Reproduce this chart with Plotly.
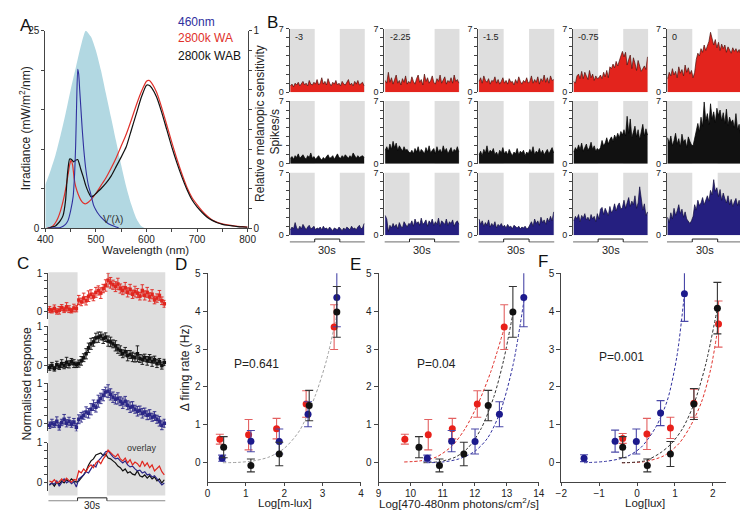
import numpy as np
import plotly.graph_objects as go

W, H = 748, 510
FONT = "Liberation Sans, Arial, sans-serif"
RED = "#e3241d"
BLUE = "#27237f"
BLACK = "#111111"
GRAY_BG = "#dedede"

# ---------------- Panel A data ----------------
mel_wl = [400, 410, 420, 430, 440, 450, 460, 470, 480, 490, 500, 510, 520, 530, 540, 550, 560, 570, 580, 590, 597]
mel_val = [0.22, 0.29, 0.37, 0.47, 0.58, 0.70, 0.81, 0.92, 1.0, 0.97, 0.90, 0.80, 0.68, 0.56, 0.44, 0.32, 0.21, 0.12, 0.05, 0.01, 0.0]

nm460_wl = [405, 420, 430, 440, 445, 450, 455, 458, 460, 462, 464, 466, 468, 470, 473, 476, 480, 485, 490, 495, 500, 505, 510, 520, 530, 540, 545]
nm460_val = [0.0, 0.05, 0.1, 0.5, 1.0, 2.2, 4.0, 7.0, 10.5, 16.0, 20.1, 19.5, 17.5, 15.5, 12.5, 10.0, 7.5, 5.5, 4.3, 3.0, 2.3, 1.8, 1.4, 0.8, 0.4, 0.15, 0.05]

wa_wl = [403, 410, 415, 420, 425, 430, 435, 440, 445, 448, 451, 454, 457, 460, 465, 470, 475, 480, 485, 490, 500, 510, 520, 530, 540, 550, 560, 570, 580, 590, 600, 605, 610, 620, 630, 640, 650, 660, 670, 680, 690, 700, 710, 720, 730, 740, 750, 760, 770, 780, 790, 800]
wa_val = [0.0, 0.1, 0.3, 0.7, 1.3, 2.2, 3.4, 4.9, 6.8, 8.0, 8.6, 8.0, 6.3, 5.3, 4.3, 3.6, 3.2, 3.1, 3.3, 3.6, 4.4, 5.4, 6.4, 7.6, 8.9, 10.4, 11.9, 13.7, 15.6, 17.3, 18.6, 18.7, 18.4, 17.2, 15.3, 13.1, 10.9, 8.8, 6.9, 5.2, 3.9, 3.0, 2.2, 1.55, 1.05, 0.75, 0.55, 0.42, 0.33, 0.25, 0.2, 0.15]

wab_wl = [405, 410, 420, 425, 430, 435, 440, 444, 448, 452, 456, 460, 464, 467, 470, 475, 480, 485, 490, 495, 500, 510, 520, 530, 540, 550, 560, 570, 580, 590, 600, 605, 610, 620, 630, 640, 650, 660, 670, 680, 690, 700, 710, 720, 730, 740, 750, 760, 770, 780, 790, 800]
wab_val = [0.0, 0.1, 0.3, 0.6, 1.0, 1.6, 3.5, 7.0, 8.75, 8.7, 8.4, 8.6, 8.7, 8.2, 7.5, 6.5, 5.4, 4.6, 4.0, 4.1, 4.4, 5.0, 5.7, 6.6, 7.8, 9.0, 10.3, 12.4, 14.5, 16.6, 18.1, 18.1, 17.8, 16.6, 14.7, 12.5, 10.3, 8.3, 6.5, 4.9, 3.6, 2.7, 2.0, 1.4, 1.0, 0.7, 0.5, 0.38, 0.3, 0.22, 0.17, 0.13]

# ---------------- Panel B data (spikes/s, 48 bins over 90 s) ----------------
b_labels = ["-3", "-2.25", "-1.5", "-0.75", "0"]
wa_m300 = [0.7,0.9,0.6,1.0,0.8,1.1,0.7,0.9,1.2,0.8,1.0,0.7,1.3,0.9,0.8,1.1, 0.9,1.4,0.8,1.0,1.6,0.9,1.2,0.8,1.5,1.0,0.7,1.1,0.9,1.3,0.8,1.0, 0.7,1.2,0.9,0.8,1.1,1.4,0.8,1.0,0.7,1.2,0.9,1.3,0.8,1.0,1.1,0.7]
wa_m225 = [1.3,1.0,2.2,1.1,1.6,0.9,1.4,1.9,1.0,1.3,0.8,1.5,1.1,1.8,0.9,1.2, 1.0,1.7,1.2,0.9,1.5,1.9,1.1,1.4,0.8,2.0,1.2,1.6,1.0,1.3,1.8,1.1, 0.9,1.5,1.2,1.9,1.0,1.4,1.7,0.9,1.3,1.1,1.6,1.0,1.9,1.2,1.4,1.0]
wa_m150 = [1.2,1.6,1.0,1.8,1.3,1.1,1.5,0.9,1.3,1.2,1.7,1.0,1.4,0.9,1.2,1.6, 1.0,1.3,0.9,1.5,1.1,1.2,0.8,1.4,1.0,1.7,1.2,0.9,1.3,1.1,1.6,1.0, 1.2,1.8,1.0,1.4,1.1,1.7,0.9,1.5,1.2,1.9,1.1,1.6,1.0,1.8,1.3,1.4]
wa_m075 = [1.2,1.0,1.8,2.0,1.5,2.3,1.5,2.2,1.8,1.4,2.4,1.6,2.0,1.3,1.8,1.5, 1.6,1.9,1.5,2.2,1.7,2.4,1.6,2.8,2.6,3.1,2.7,3.4,2.9,3.6,4.0,4.5, 3.9,4.4,3.0,3.6,4.1,2.6,3.8,3.2,2.4,3.5,2.8,2.3,2.6,2.9,2.5,3.9]
wa_0 = [1.5,2.2,1.8,2.6,1.9,2.3,1.6,2.8,2.1,2.5,1.8,3.0,2.2,2.7,2.0,2.4, 1.6,2.2,3.6,4.3,4.0,4.8,4.4,5.2,4.6,5.0,5.6,6.6,6.0,5.2,5.8,4.9, 5.5,4.6,5.3,4.8,5.2,4.4,5.0,4.6,4.3,4.9,4.5,4.8,4.4,4.7,4.2,4.6]

wab_m300 = [0.6,0.8,0.5,0.9,0.7,1.1,0.6,0.8,1.0,0.7,0.5,0.9,0.7,1.2,0.6,0.8, 0.5,0.7,0.9,0.6,0.4,0.7,0.5,0.8,1.0,0.6,0.7,0.9,0.5,0.8,1.1,0.7, 0.6,0.9,0.7,1.0,0.8,0.6,0.9,0.7,1.2,0.8,0.6,0.9,0.7,0.8,0.9,0.7]
wab_m225 = [1.5,1.9,1.4,2.2,1.6,2.5,1.8,2.3,1.5,2.0,1.7,1.4,1.9,1.5,1.6,1.3, 1.2,1.5,1.1,1.7,1.3,1.9,1.2,1.6,1.4,1.1,1.8,1.3,2.0,1.2,1.5,1.7, 1.1,1.9,1.3,1.6,1.2,2.0,1.4,1.7,1.1,1.5,1.8,1.2,1.6,1.4,1.9,1.3]
wab_m150 = [1.0,1.4,0.9,1.6,1.2,2.0,1.1,1.5,1.3,1.7,1.0,1.3,0.9,1.5,1.2,1.8, 1.1,1.4,1.0,1.6,1.2,0.9,1.3,1.1,1.7,1.0,1.4,1.2,1.5,0.9,1.3,1.1, 1.6,1.2,1.9,1.0,1.4,1.2,1.7,1.1,1.5,1.0,1.3,1.6,1.1,1.4,1.8,1.2]
wab_m075 = [1.3,1.8,1.5,2.1,1.6,2.3,1.4,1.9,2.2,1.5,1.8,2.4,1.6,2.0,1.4,1.7, 1.5,1.8,2.6,2.0,2.3,2.9,2.2,2.7,3.0,2.5,3.2,2.8,3.4,2.9,3.6,3.2, 3.8,3.1,5.3,3.4,5.0,2.9,3.6,4.2,3.0,3.8,2.7,3.4,4.4,3.1,3.9,3.2]
wab_0 = [2.9,2.3,3.1,2.0,2.6,3.4,2.2,2.8,1.9,3.3,2.4,2.7,1.8,3.0,2.5,2.1, 2.0,2.8,3.9,4.5,3.6,5.2,4.2,6.9,4.8,5.6,4.4,6.7,5.0,5.8,4.6,6.2, 5.4,6.0,4.8,5.7,4.5,6.1,4.3,5.2,4.6,4.9,4.0,5.6,3.8,4.4,3.2,2.8]

n460_m300 = [0.6,0.9,0.7,1.4,0.8,0.6,1.0,0.7,1.2,0.8,0.6,0.9,1.1,0.7,0.8,1.0, 0.6,0.8,0.7,0.9,0.6,1.0,0.7,0.8,0.6,0.9,0.7,0.5,0.8,0.7,0.6,0.9, 0.7,0.5,0.8,0.6,0.9,0.7,0.6,1.0,0.7,0.8,0.6,0.9,1.1,0.7,0.8,1.3]
n460_m225 = [2.2,1.8,0.4,1.1,0.8,1.3,0.9,1.2,0.7,1.4,1.0,0.8,1.5,1.1,0.9,1.3, 1.2,1.6,1.0,1.8,1.3,1.5,1.1,1.9,1.2,1.4,1.7,1.0,1.6,1.3,1.8,1.1, 1.5,1.2,1.9,1.0,1.6,1.4,1.2,1.8,1.1,1.5,1.3,1.7,1.0,1.4,1.6,1.2]
n460_m150 = [1.8,1.2,1.6,1.0,1.4,1.1,1.7,0.9,1.3,1.0,1.5,0.8,1.2,1.0,1.3,0.9, 1.1,0.8,1.2,0.9,1.0,0.7,1.1,0.9,0.8,1.0,0.7,0.9,0.8,1.0,0.7,0.8, 1.1,1.5,1.0,1.8,1.3,1.6,1.1,2.0,1.4,1.7,1.2,1.9,1.5,2.1,1.6,2.6]
n460_m075 = [1.6,2.1,1.8,2.3,1.5,2.2,1.9,2.4,1.7,2.0,1.6,2.3,1.8,2.1,1.5,2.4, 1.8,2.9,3.1,2.3,3.0,2.6,2.2,3.2,2.5,2.8,3.5,2.7,3.3,3.6,2.9,3.1, 3.9,3.0,3.7,4.2,3.2,3.8,3.4,4.4,3.0,3.6,5.4,4.3,2.8,3.5,2.2,2.6]
n460_0 = [2.0,1.4,2.5,1.8,3.0,2.2,2.7,3.4,2.4,2.9,2.0,2.6,1.8,1.5,1.3,1.6, 2.1,3.4,2.8,3.9,3.3,3.6,4.2,3.4,4.0,4.4,3.8,5.0,4.5,6.2,4.9,5.3, 4.3,5.1,3.9,4.7,4.1,3.6,4.4,3.4,4.0,3.2,3.7,4.1,3.3,3.9,3.0,3.5]

b_rows = [
    (wa_m300, wa_m225, wa_m150, wa_m075, wa_0),
    (wab_m300, wab_m225, wab_m150, wab_m075, wab_0),
    (n460_m300, n460_m225, n460_m150, n460_m075, n460_0),
]
b_fill = [RED, "#111111", "#251f80"]
b_edge = ["#4a1410", "#000000", "#120e3c"]
b_time = (np.arange(48) + 0.5) * 90 / 48

# ---------------- Panel C data (normalised, 48 bins over 120 s) ----------------
c_time = (np.arange(48) + 0.5) * 2.5
c_wa = [0.05,0.02,0.08,0.0,0.03,0.1,0.04,0.12,0.06,0.02,0.09,0.07, 0.3,0.25,0.35,0.28,0.4,0.45,0.38,0.5,0.55,0.48,0.6,0.68, 0.82,0.75,0.7,0.65,0.72,0.6,0.55,0.62,0.5,0.58,0.45,0.52,0.48,0.4,0.55,0.42,0.5,0.38,0.45,0.3,0.35,0.42,0.28,0.2]
c_wa_err = [0.08,0.06,0.09,0.07,0.1,0.08,0.07,0.11,0.09,0.06,0.1,0.08, 0.12,0.1,0.13,0.11,0.14,0.12,0.1,0.13,0.12,0.14,0.11,0.15, 0.18,0.14,0.12,0.13,0.15,0.12,0.11,0.14,0.12,0.13,0.11,0.14,0.12,0.1,0.15,0.12,0.13,0.11,0.12,0.1,0.11,0.13,0.1,0.09]
c_wab = [-0.05,0.0,-0.08,0.02,-0.03,0.05,0.0,0.08,0.03,0.1,0.05,0.02, 0.05,0.12,0.2,0.3,0.45,0.55,0.6,0.7,0.72,0.75,0.68,0.72, 0.62,0.6,0.55,0.5,0.42,0.38,0.3,0.35,0.25,0.28,0.22,0.2,0.3,0.18,0.15,0.2,0.12,0.18,0.1,0.15,0.05,0.1,0.0,0.08]
c_wab_err = [0.07,0.08,0.06,0.09,0.07,0.1,0.08,0.13,0.09,0.08,0.1,0.07, 0.09,0.11,0.1,0.13,0.12,0.14,0.11,0.12,0.13,0.1,0.12,0.11, 0.13,0.12,0.1,0.13,0.11,0.12,0.1,0.11,0.13,0.1,0.12,0.11,0.2,0.1,0.12,0.09,0.11,0.1,0.12,0.09,0.1,0.08,0.09,0.08]
c_460 = [-0.05,0.0,-0.03,0.05,-0.08,0.02,0.1,0.0,0.05,-0.02,0.03,-0.1, 0.1,0.15,0.2,0.28,0.25,0.35,0.45,0.4,0.55,0.62,0.7,0.78, 0.8,0.72,0.65,0.6,0.62,0.55,0.5,0.55,0.45,0.4,0.42,0.35,0.3,0.32,0.25,0.28,0.2,0.22,0.15,0.18,0.1,0.05,-0.05,0.0]
c_460_err = [0.08,0.1,0.07,0.11,0.09,0.08,0.12,0.09,0.1,0.08,0.09,0.1, 0.11,0.12,0.1,0.13,0.12,0.14,0.13,0.12,0.15,0.13,0.14,0.12, 0.16,0.14,0.13,0.12,0.14,0.11,0.13,0.12,0.11,0.13,0.12,0.1,0.12,0.11,0.12,0.1,0.11,0.12,0.1,0.11,0.1,0.12,0.11,0.1]

# ---------------- Panels D/E/F data ----------------
d_wa_x = [0.32, 1.07, 1.80, 2.57, 3.30]
d_wab_x = [0.42, 1.13, 1.87, 2.65, 3.37]
d_460_x = [0.38, 1.13, 1.87, 2.62, 3.37]
e_wa_x = [9.82, 10.55, 11.30, 12.08, 12.92]
e_wab_x = [10.26, 10.90, 11.66, 12.42, 13.19]
e_460_x = [10.52, 11.28, 12.01, 12.77, 13.53]
f_wa_x = [-0.38, 0.26, 0.88, 1.50, 2.15]
f_wab_x = [-0.38, 0.27, 0.88, 1.50, 2.12]
f_460_x = [-1.40, -0.58, -0.02, 0.62, 1.25]

resp_wa = [0.62, 0.74, 0.90, 1.55, 3.58]
resp_wa_err = [0.13, 0.40, 0.27, 0.35, 0.59]
resp_wab = [0.41, -0.07, 0.23, 1.51, 3.98]
resp_wab_err = [0.28, 0.17, 0.31, 0.40, 0.67]
resp_460 = [0.12, 0.57, 0.56, 1.28, 4.36]
resp_460_err = [0.08, 0.28, 0.33, 0.33, 0.77]

f_resp_wa = [0.64, 0.76, 0.92, 1.57, 3.66]
f_resp_wa_err = [0.13, 0.41, 0.28, 0.37, 0.61]
f_resp_wab = [0.41, -0.07, 0.23, 1.55, 4.08]
f_resp_wab_err = [0.28, 0.17, 0.33, 0.41, 0.68]
f_resp_460 = [0.12, 0.57, 0.56, 1.31, 4.46]
f_resp_460_err = [0.09, 0.29, 0.33, 0.33, 0.73]

dfit_x = [0.4, 0.8, 1.2, 1.6, 2.0, 2.4, 2.8, 3.1, 3.37]
dfit_y = [0.0, 0.01, 0.05, 0.15, 0.38, 0.85, 1.75, 2.7, 3.9]
efit_wa_x = [9.8, 10.3, 10.8, 11.3, 11.7, 12.1, 12.5, 12.93]
efit_wa_y = [0.02, 0.05, 0.15, 0.45, 0.9, 1.55, 2.4, 3.58]
efit_wab_x = [10.4, 10.9, 11.4, 11.8, 12.2, 12.6, 12.9, 13.2]
efit_wab_y = [0.0, 0.03, 0.15, 0.4, 0.9, 1.75, 2.7, 3.98]
efit_460_x = [10.5, 11.0, 11.5, 12.0, 12.4, 12.8, 13.2, 13.55]
efit_460_y = [0.0, 0.02, 0.1, 0.3, 0.65, 1.35, 2.6, 4.36]
ffit_460_x = [-1.4, -0.8, -0.3, 0.1, 0.5, 0.8, 1.05, 1.25]
ffit_460_y = [0.0, 0.04, 0.15, 0.4, 0.95, 1.65, 2.8, 4.46]
ffit_wa_x = [-0.4, 0.2, 0.7, 1.1, 1.4, 1.7, 1.95, 2.15]
ffit_wa_y = [0.0, 0.03, 0.18, 0.5, 0.95, 1.6, 2.5, 3.66]
ffit_wab_x = [-0.4, 0.2, 0.6, 0.9, 1.2, 1.5, 1.8, 2.12]
ffit_wab_y = [0.0, 0.05, 0.25, 0.5, 0.9, 1.55, 2.55, 4.08]

# ---------------- helpers ----------------
def X(p):
    return p / W

def Y(p):
    return 1 - p / H

layout = dict(width=W, height=H, margin=dict(l=0, r=0, t=0, b=0),
              paper_bgcolor="white", plot_bgcolor="rgba(0,0,0,0)", showlegend=False,
              font=dict(family=FONT, size=10, color="#222"))
shapes, annotations, traces = [], [], []
counter = [0]

AX = dict(showgrid=False, zeroline=False, showline=True, linecolor="#444", linewidth=1,
          ticks="outside", tickcolor="#444", ticklen=3, tickwidth=1,
          tickfont=dict(size=10, color="#222", family=FONT))

def new_axes(xpx, ypx, xopts, yopts):
    counter[0] += 1
    n = counter[0]
    s = "" if n == 1 else str(n)
    xo = dict(AX); xo.update(xopts)
    yo = dict(AX); yo.update(yopts)
    layout["xaxis" + s] = dict(domain=[X(xpx[0]), X(xpx[1])], anchor="y" + s, **xo)
    layout["yaxis" + s] = dict(domain=[Y(ypx[1]), Y(ypx[0])], anchor="x" + s, **yo)
    return "x" + s, "y" + s

def text(px, py, s, size=10, color="#222", xanchor="center", yanchor="middle", angle=0, xref=None, xval=None, yref=None, yval=None):
    annotations.append(dict(x=X(px) if xref is None else xval, y=Y(py) if yref is None else yval,
                            xref="paper" if xref is None else xref, yref="paper" if yref is None else yref,
                            text=s, showarrow=False, xanchor=xanchor, yanchor=yanchor, textangle=angle,
                            borderpad=0, font=dict(size=size, color=color, family=FONT)))

def blank_ticks(vals, labelled):
    return [str(v) if v in labelled else " " for v in vals]

# ---------------- Panel A ----------------
ra = [round(0.1 * i, 1) for i in range(11)]
xa, ya = new_axes((30, 237), (17, 219),
                  dict(range=[400, 800], tickvals=list(range(400, 801, 50)), ticklabelstandoff=-1,
                       ticktext=blank_ticks(list(range(400, 801, 50)), [400, 500, 600, 700, 800])),
                  dict(range=[0, 1], side="right", tickvals=ra,
                       ticktext=["0" if v == 0 else ("1" if v == 1 else " ") for v in ra]))
counter[0] += 1
ya2 = "y" + str(counter[0])
yo = dict(AX)
yo.update(dict(range=[0, 25], overlaying=ya, side="left", anchor=xa,
               tickvals=[0, 5, 10, 15, 20, 25], ticktext=["0", " ", " ", " ", " ", "25"]))
layout["yaxis" + str(counter[0])] = yo

traces.append(go.Scatter(x=mel_wl, y=mel_val, mode="lines", fill="tozeroy", fillcolor="#b2d8e2",
                         line=dict(width=0, shape="spline", smoothing=0.6), xaxis=xa, yaxis=ya))
traces.append(go.Scatter(x=wa_wl, y=wa_val, mode="lines", line=dict(color="#e0302a", width=1.2, shape="spline", smoothing=0.5), xaxis=xa, yaxis=ya2))
traces.append(go.Scatter(x=wab_wl, y=wab_val, mode="lines", line=dict(color="#111", width=1.2, shape="spline", smoothing=0.5), xaxis=xa, yaxis=ya2))
traces.append(go.Scatter(x=nm460_wl, y=nm460_val, mode="lines", line=dict(color="#2f2f9e", width=1.1, shape="spline", smoothing=0.5), xaxis=xa, yaxis=ya2))

text(10, 12, "A", size=17, color="#111")
text(165, 8, "460nm", size=12, color="#2f2f9e", xanchor="left")
text(165, 25, "2800k WA", size=12, color="#e0302a", xanchor="left")
text(165, 43, "2800k WAB", size=12, color="#111", xanchor="left")
text(99, 210, "V′(λ)", size=10, color="#333")
text(10, 117, "Irradiance (mW/m<sup>2</sup>/nm)", size=12, angle=-90)
text(249, 112, "Relative melanopic sensitivity", size=12, angle=-90)
text(133, 241, "Wavelength (nm)", size=11.5)

# ---------------- Panel B ----------------
cols_px = [(280, 357), (377, 454), (473, 551), (570, 647), (666, 744)]
rows_px = [(15, 80), (89, 153), (162, 226)]
for r, (rt, rb) in enumerate(rows_px):
    for c, (cl, cr) in enumerate(cols_px):
        bx, by = new_axes((cl, cr), (rt, rb),
                          dict(range=[0, 90], showline=False, showticklabels=False, ticks=""),
                          dict(range=[0, 7], tickvals=list(range(8)),
                               ticktext=["0", " ", " ", " ", " ", " ", " ", "7"],
                               tickfont=dict(size=9, color="#222", family=FONT)))
        for (a0, a1) in [(0, 30), (60, 90)]:
            shapes.append(dict(type="rect", xref=bx, yref=by, x0=a0, x1=a1, y0=0, y1=7,
                               fillcolor=GRAY_BG, line=dict(width=0), layer="below"))
        traces.append(go.Scatter(x=b_time, y=b_rows[r][c], mode="lines", fill="tozeroy",
                                 fillcolor=b_fill[r], line=dict(color=b_edge[r], width=0.7),
                                 xaxis=bx, yaxis=by))
        if r == 0:
            text(0, 0, b_labels[c], size=9, xanchor="left", xref=bx, xval=5, yref=by, yval=6.1)
        if r == 2:
            lo, hi = Y(233), Y(230)
            for (a0, a1) in [(0, 30), (60, 90)]:
                shapes.append(dict(type="line", xref=bx, yref="paper", x0=a0, x1=a1, y0=lo, y1=lo,
                                   line=dict(color="#888", width=1.2)))
            shapes.append(dict(type="line", xref=bx, yref="paper", x0=30, x1=30, y0=lo, y1=hi, line=dict(color="#222", width=1)))
            shapes.append(dict(type="line", xref=bx, yref="paper", x0=60, x1=60, y0=lo, y1=hi, line=dict(color="#222", width=1)))
            shapes.append(dict(type="line", xref=bx, yref="paper", x0=30, x1=60, y0=hi, y1=hi, line=dict(color="#222", width=1)))
            text(0, 241, "30s", size=11, xref=bx, xval=45)
text(262, 9, "B", size=17, color="#111")
text(265, 120, "Spikes/s", size=12, angle=-90)

# ---------------- Panel C ----------------
c_rows_px = [(265, 311.8), (319, 367.4), (377.3, 426.5), (438.3, 487.5)]
c_series = [(c_wa, c_wa_err, "#e0261f"), (c_wab, c_wab_err, "#111"), (c_460, c_460_err, "#2b2787")]
cv = [0, 0.2, 0.4, 0.6, 0.8, 1.0]
c_axes = []
for i, (t, b) in enumerate(c_rows_px):
    cx, cy = new_axes((33, 153), (t, b),
                      dict(range=[0, 120], showline=False, showticklabels=False, ticks=""),
                      dict(range=[-0.2, 1.0], tickvals=cv, ticktext=["0", " ", " ", " ", " ", "1"]))
    c_axes.append((cx, cy))
cx0 = c_axes[0][0]
for (a0, a1) in [(0, 30), (60, 120)]:
    shapes.append(dict(type="rect", xref=cx0, yref="paper", x0=a0, x1=a1, y0=Y(492), y1=Y(264),
                       fillcolor=GRAY_BG, line=dict(width=0), layer="below"))
for i, (vals, errs, col) in enumerate(c_series):
    cx, cy = c_axes[i]
    traces.append(go.Scatter(x=c_time, y=vals, mode="lines+markers", cliponaxis=False,
                             line=dict(color=col, width=1),
                             marker=dict(symbol="square", size=3.5, color=col),
                             error_y=dict(type="data", array=errs, color=col, thickness=0.9, width=1.8),
                             xaxis=cx, yaxis=cy))
cx, cy = c_axes[3]
for vals, col in [(c_wab, "#111"), (c_460, "#2b2787"), (c_wa, "#e0261f")]:
    traces.append(go.Scatter(x=c_time, y=vals, mode="lines", cliponaxis=False,
                             line=dict(color=col, width=1.2), xaxis=cx, yaxis=cy))
text(145, 444, "overlay", size=9, color="#333", xanchor="right")
lo, hi = Y(497.5), Y(494.5)
for (a0, a1) in [(0, 30), (60, 120)]:
    shapes.append(dict(type="line", xref=cx0, yref="paper", x0=a0, x1=a1, y0=lo, y1=lo, line=dict(color="#888", width=1.2)))
shapes.append(dict(type="line", xref=cx0, yref="paper", x0=30, x1=30, y0=lo, y1=hi, line=dict(color="#222", width=1)))
shapes.append(dict(type="line", xref=cx0, yref="paper", x0=60, x1=60, y0=lo, y1=hi, line=dict(color="#222", width=1)))
shapes.append(dict(type="line", xref=cx0, yref="paper", x0=30, x1=60, y0=hi, y1=hi, line=dict(color="#222", width=1)))
text(0, 502, "30s", size=10, xref=cx0, xval=45)
text(7, 255, "C", size=17, color="#111")
text(11, 378, "Normalised response", size=12, angle=-90)

# ---------------- Panels D / E / F ----------------
def dose_panel(xpx, xrange, xticks, sets, fits, ptxt, ppx, xtitle, xt_px, letter, let_px):
    dx, dy = new_axes(xpx, (265, 478),
                      dict(range=xrange, tickvals=xticks, ticklen=3, ticklabelstandoff=-1),
                      dict(range=[-0.5, 5], tickvals=[0, 1, 2, 3, 4, 5], ticklen=4))
    for fx, fy, col in fits:
        traces.append(go.Scatter(x=fx, y=fy, mode="lines",
                                 line=dict(color=col, width=1, dash="3px,2px", shape="spline", smoothing=0.8),
                                 xaxis=dx, yaxis=dy))
    for sx, sy, se, mcol, ecol in sets:
        traces.append(go.Scatter(x=sx, y=sy, mode="markers", cliponaxis=False,
                                 marker=dict(size=7, color=mcol),
                                 error_y=dict(type="data", array=se, color=ecol, thickness=1.1, width=4),
                                 xaxis=dx, yaxis=dy))
    text(ppx[0], ppx[1], ptxt, size=12)
    text(xt_px, 500, xtitle, size=11.5)
    text(let_px[0], let_px[1], letter, size=17, color="#111")

sets_d = [(d_wa_x, resp_wa, resp_wa_err, "#e8201a", "#e36060"),
          (d_460_x, resp_460, resp_460_err, "#1c1a8c", "#4a48a8"),
          (d_wab_x, resp_wab, resp_wab_err, "#111", "#333")]
dose_panel((196, 353), [0, 4], [0, 1, 2, 3, 4], sets_d,
           [(dfit_x, dfit_y, "#a0a0a0")], "P=0.641", (246, 358), "Log[m-lux]", 275, "D", (169, 256))
text(173, 362, "Δ firing rate (Hz)", size=12, angle=-90)

sets_e = [(e_wa_x, resp_wa, resp_wa_err, "#e8201a", "#e36060"),
          (e_wab_x, resp_wab, resp_wab_err, "#111", "#333"),
          (e_460_x, resp_460, resp_460_err, "#1c1a8c", "#4a48a8")]
dose_panel((371, 535), [9, 14], [9, 10, 11, 12, 13, 14], sets_e,
           [(efit_wa_x, efit_wa_y, "#e0302a"), (efit_wab_x, efit_wab_y, "#333"), (efit_460_x, efit_460_y, "#2f2f9e")],
           "P=0.04", (430, 358), "Log[470-480nm photons/cm<sup>2</sup>/s]", 453, "E", (347, 256))

sets_f = [(f_460_x, f_resp_460, f_resp_460_err, "#1c1a8c", "#4a48a8"),
          (f_wa_x, f_resp_wa, f_resp_wa_err, "#e8201a", "#e36060"),
          (f_wab_x, f_resp_wab, f_resp_wab_err, "#111", "#333")]
dose_panel((558, 727), [-2, 2.36], [-2, -1, 0, 1, 2], sets_f,
           [(ffit_460_x, ffit_460_y, "#2f2f9e"), (ffit_wa_x, ffit_wa_y, "#e0302a"), (ffit_wab_x, ffit_wab_y, "#333")],
           "P=0.001", (620, 351), "Log[lux]", 644, "F", (539, 253))

layout["shapes"] = shapes
layout["annotations"] = annotations
fig = go.Figure(data=traces, layout=layout)
fig.write_html("out.html")
